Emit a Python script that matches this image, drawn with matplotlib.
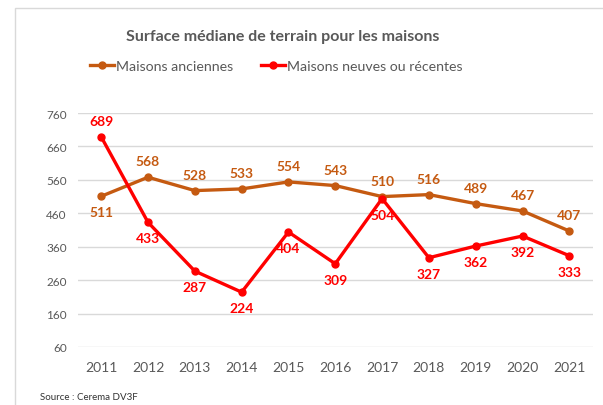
import matplotlib.pyplot as plt
from matplotlib.patches import Rectangle

plt.rcParams['font.family'] = ['Lato', 'DejaVu Sans']

years = ['2011', '2012', '2013', '2014', '2015', '2016',
         '2017', '2018', '2019', '2020', '2021']
anciennes = [511, 568, 528, 533, 554, 543, 510, 516, 489, 467, 407]
neuves = [689, 433, 287, 224, 404, 309, 504, 327, 362, 392, 333]
yticks = [60, 160, 260, 360, 460, 560, 660, 760]

# label placement: 1 above the point, -1 below
pos_anciennes = [-1, 1, 1, 1, 1, 1, 1, 1, 1, 1, 1]
pos_neuves = [1, -1, -1, -1, -1, -1, -1, -1, -1, -1, -1]

c_old = '#C55A11'
c_new = '#FF0000'
grey = '#595959'

fig = plt.figure(figsize=(6.03, 4.06), dpi=100)
fig.patches.append(Rectangle((15 / 603, -0.1), 1.2, 1 - 9 / 406 + 0.1,
                             transform=fig.transFigure, fill=False,
                             edgecolor='#D9D9D9', linewidth=1))

ax = fig.add_axes([0.129, 0.143, 0.854, 0.576])
x = range(len(years))

ax.plot(x, anciennes, color=c_old, linewidth=2.4, marker='o',
        markersize=5, label='Maisons anciennes', zorder=3)
ax.plot(x, neuves, color=c_new, linewidth=2.4, marker='o',
        markersize=5, label='Maisons neuves ou récentes', zorder=4)

for xi, v, p in zip(x, anciennes, pos_anciennes):
    ax.annotate(str(v), (xi, v), xytext=(0, 11.5 * p), textcoords='offset points',
                ha='center', va='center', color=c_old, fontsize=10,
                fontweight='bold')
for xi, v, p in zip(x, neuves, pos_neuves):
    ax.annotate(str(v), (xi, v), xytext=(0, 11.5 * p), textcoords='offset points',
                ha='center', va='center', color=c_new, fontsize=10,
                fontweight='bold')

ax.set_xlim(-0.5, len(years) - 0.5)
ax.set_ylim(60, 760)
ax.set_yticks(yticks)
ax.set_xticks(list(x))
ax.set_xticklabels(years)
ax.grid(axis='y', color='#D9D9D9', linewidth=1)
ax.set_axisbelow(True)
for s in ax.spines.values():
    s.set_visible(False)
ax.tick_params(axis='both', length=0, colors=grey)
ax.tick_params(axis='y', labelsize=8.5, pad=8)
ax.tick_params(axis='x', labelsize=10, pad=10)

fig.text(0.468, 0.91, 'Surface médiane de terrain pour les maisons',
         ha='center', va='center', fontsize=11.5, fontweight='bold',
         color=grey)
fig.legend(loc='center', bbox_to_anchor=(0.458, 0.834), ncol=2, frameon=False,
           fontsize=10.2, labelcolor=grey, handlelength=1.7, handletextpad=0.1,
           columnspacing=2.0)
fig.text(0.066, 0.022, 'Source : Cerema DV3F', ha='left', va='center',
         fontsize=7, color='#333333')

fig.savefig('out.png', dpi=100)
